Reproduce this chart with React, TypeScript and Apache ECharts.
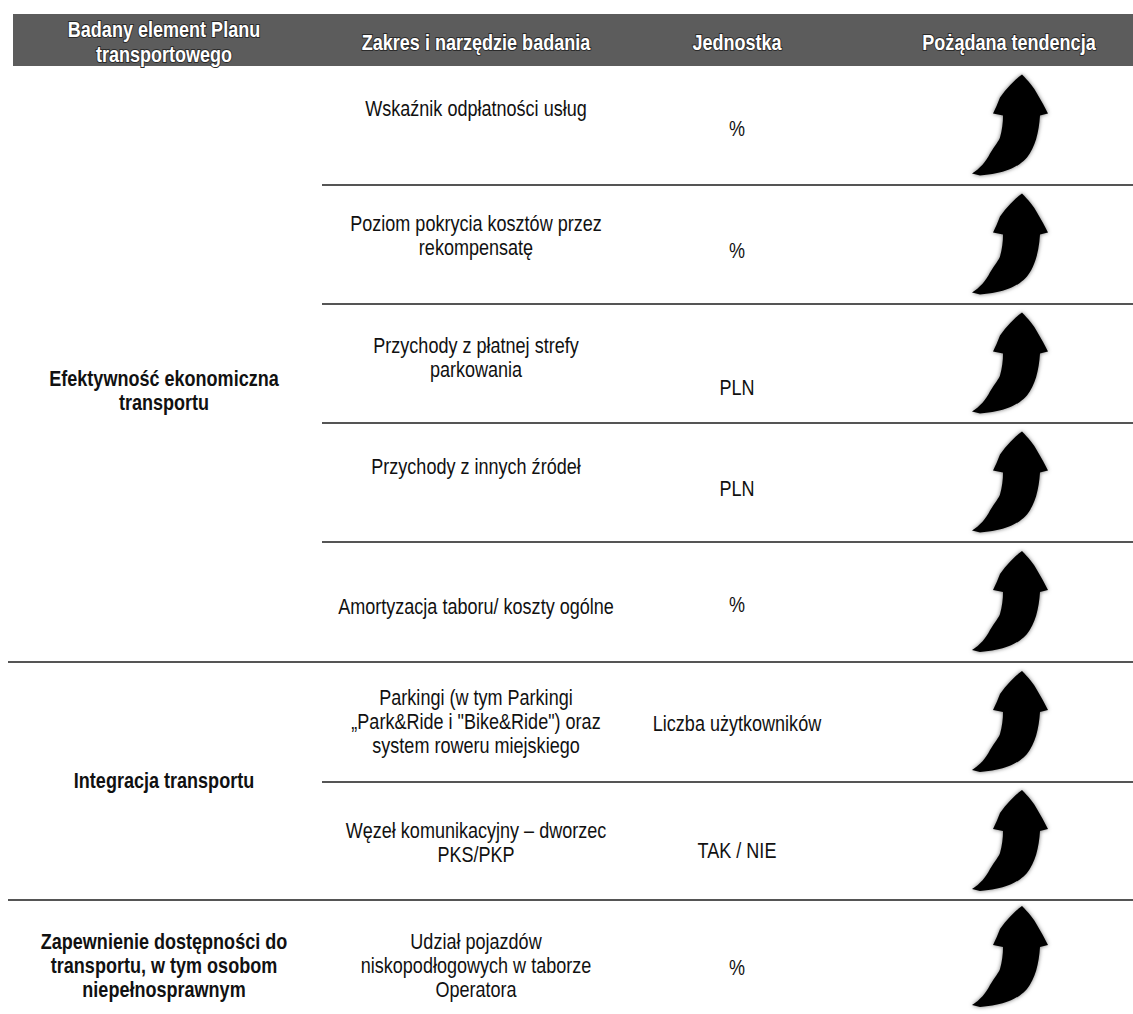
import React, { useEffect, useRef } from "react";
import * as echarts from "echarts";

// ---------- data ----------
const headers = [
  "Badany element Planu\ntransportowego",
  "Zakres i narzędzie badania",
  "Jednostka",
  "Pożądana tendencja",
];
const groups = [
  "Efektywność ekonomiczna\ntransportu",
  "Integracja transportu",
  "Zapewnienie dostępności do\ntransportu, w tym osobom\nniepełnosprawnym",
];
const groupSpans = [5, 2, 1];
const items = [
  "Wskaźnik odpłatności usług",
  "Poziom pokrycia kosztów przez\nrekompensatę",
  "Przychody z płatnej strefy\nparkowania",
  "Przychody z innych źródeł",
  "Amortyzacja taboru/ koszty ogólne",
  "Parkingi (w tym Parkingi\n„Park&Ride i \"Bike&Ride\") oraz\nsystem roweru miejskiego",
  "Węzeł komunikacyjny – dworzec\nPKS/PKP",
  "Udział pojazdów\nniskopodłogowych w taborze\nOperatora",
];
const units = ["%", "%", "PLN", "PLN", "%", "Liczba użytkowników", "TAK / NIE", "%"];
const trends = ["up", "up", "up", "up", "up", "up", "up", "up"];

// ---------- layout ----------
const W = 1133;
const H = 1014;
const headerBox = { x: 13, y: 14, w: W - 13, h: 52 };
const rowTops = [66, 185, 304, 423, 542, 662, 782, 900];
const tableBottom = 1014;
const colX = [164, 476, 737, 1009];
const headerY = [[29, 54], 42, 42, 42];
const itemY = [108, 235, 357, 466, 606, 721, 842, 965];
const unitY = [128, 250, 387, 488, 604, 723, 850, 967];
const groupY = [390, 780, 965];
const itemLineX = 322;
const groupLineX = 8;
const NARROW = 0.82;
const FONT = "'Liberation Sans', Arial, sans-serif";
const ARROW_D =
  "M54,2 C60,8 66,15 69,21 Q75,31 80,41 L72,43 C71,60 67,75 59,85 C51,94 38,101 12,103 L4,101 C12,96 18,89 22,81 C27,73 31,68 32,65 C34,58 35,50 35,43 L25,41 Q29,33 32,25 C38,16 46,8 54,2 Z";

let registered = false;

function txt(text: string, x: number, y: number, opts: any = {}) {
  return {
    type: "text",
    x,
    y,
    scaleX: NARROW,
    silent: true,
    style: {
      text,
      x: 0,
      y: 0,
      align: "center",
      verticalAlign: "middle",
      font: `${opts.bold ? "bold " : ""}${opts.size || 22}px ${FONT}`,
      lineHeight: opts.lineHeight || 24,
      fill: opts.fill || "#111",
      stroke: opts.stroke,
      lineWidth: opts.lineWidth,
    },
    z: 10,
  };
}

export default function App() {
  const ref = useRef<HTMLDivElement>(null);
  useEffect(() => {
    document.body.style.margin = "0";
    if (!registered) {
      echarts.graphic.registerShape("trendUp", echarts.graphic.extendPath(ARROW_D, {}));
      registered = true;
    }
    const chart = echarts.init(ref.current!, null, { renderer: "svg" });
    const els: any[] = [];

    // header bar
    els.push({
      type: "rect",
      shape: { x: headerBox.x, y: headerBox.y, width: headerBox.w, height: headerBox.h },
      style: { fill: "#5c5c5c" },
      silent: true,
    });
    headers.forEach((h, i) => {
      const hy = headerY[i];
      if (Array.isArray(hy)) {
        h.split("\n").forEach((line, k) => {
          els.push(
            txt(line, colX[i], hy[k], { bold: true, fill: "#fff", stroke: "#2a2a2a", lineWidth: 2 })
          );
        });
      } else {
        els.push(txt(h, colX[i], hy as number, { bold: true, fill: "#fff", stroke: "#2a2a2a", lineWidth: 2 }));
      }
    });

    // row separator lines
    const groupStarts = new Set<number>();
    let acc = 0;
    groupSpans.forEach((s) => {
      groupStarts.add(acc);
      acc += s;
    });
    rowTops.forEach((top, r) => {
      if (r === 0) return;
      const full = groupStarts.has(r);
      els.push({
        type: "line",
        silent: true,
        shape: { x1: full ? groupLineX : itemLineX, y1: top, x2: W, y2: top },
        style: { stroke: "#1c1c1c", lineWidth: 1.6 },
      });
    });

    // group labels
    groups.forEach((g, i) => {
      els.push(txt(g, colX[0], groupY[i], { bold: true, lineHeight: 24 }));
    });

    // items, units, arrows
    items.forEach((it, r) => {
      els.push(txt(it, colX[1], itemY[r], { lineHeight: 24 }));
      els.push(txt(units[r], colX[2], unitY[r]));
      if (trends[r] === "up") {
        const top = rowTops[r];
        const bottom = r + 1 < rowTops.length ? rowTops[r + 1] : tableBottom;
        const mid = (top + bottom) / 2;
        els.push({
          type: "trendUp",
          silent: true,
          x: colX[3] - 41,
          y: mid - 53,
          style: { fill: "#050505", shadowBlur: 4, shadowColor: "rgba(0,0,0,0.55)" },
        });
      }
    });

    chart.setOption({
      animation: false,
      backgroundColor: "#fff",
      graphic: { elements: els },
    });
    return () => chart.dispose();
  }, []);
  return <div ref={ref} style={{ width: W, height: H }} />;
}
